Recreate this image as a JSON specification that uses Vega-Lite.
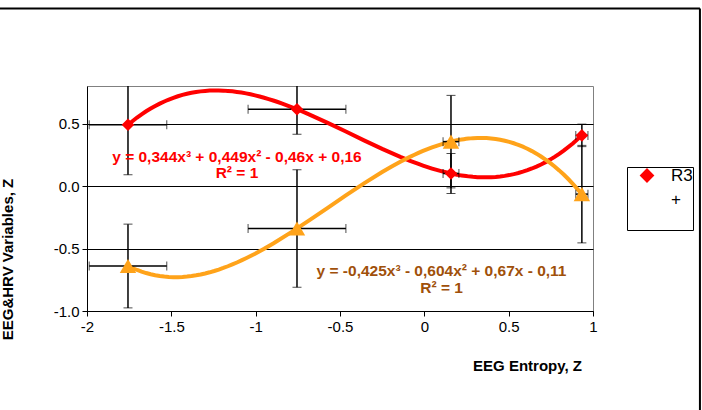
{
  "$schema": "https://vega.github.io/schema/vega-lite/v6.json",
  "width": 506,
  "height": 225,
  "autosize": {"type": "none"},
  "padding": {"left": 87, "top": 86, "right": 109, "bottom": 99},
  "background": "white",
  "config": {
    "view": {"stroke": "#808080", "strokeWidth": 1},
    "axis": {
      "domainColor": "black",
      "tickColor": "black",
      "labelColor": "black",
      "titleColor": "black",
      "labelFont": "Liberation Sans",
      "titleFont": "Liberation Sans",
      "labelFontSize": 15,
      "titleFontSize": 15,
      "titleFontWeight": "bold",
      "tickSize": 5,
      "labelPadding": 3
    },
    "legend": {
      "orient": "none",
      "legendX": 540,
      "legendY": 81,
      "titleOrient": "bottom",
      "titleFontSize": 20,
      "titlePadding": 2,
      "padding": 0,
      "strokeColor": "black",
      "fillColor": "white",
      "labelFont": "Liberation Sans",
      "labelFontSize": 17,
      "labelColor": "black",
      "labelOffset": 15,
      "symbolOffset": 11,
      "symbolSize": 150,
      "rowPadding": 6
    }
  },
  "data": {
    "values": [
      {"series": "R3", "x": -1.757, "y": 0.49, "xerr": 0.23, "yerr": 0.4},
      {"series": "R3", "x": -0.755, "y": 0.614, "xerr": 0.29, "yerr": 0.2},
      {"series": "R3", "x": 0.158, "y": 0.1, "xerr": 0.047, "yerr": 0.16},
      {"series": "R3", "x": 0.934, "y": 0.405, "xerr": 0.036, "yerr": 0.09},
      {"series": "+", "x": -1.757, "y": -0.64, "xerr": 0.23, "yerr": 0.335},
      {"series": "+", "x": -0.755, "y": -0.34, "xerr": 0.29, "yerr": 0.47},
      {"series": "+", "x": 0.158, "y": 0.355, "xerr": 0.047, "yerr": 0.37},
      {"series": "+", "x": 0.934, "y": -0.065, "xerr": 0.036, "yerr": 0.39}
    ]
  },
  "encoding": {
    "x": {
      "field": "x",
      "type": "quantitative",
      "scale": {"domain": [-2, 1], "nice": false, "zero": false},
      "axis": {
        "title": "EEG Entropy, Z",
        "values": [-2, -1.5, -1, -0.5, 0, 0.5, 1],
        "grid": false,
        "labelFlush": false,
        "labelExpr": "datum.value < 0 ? '-' + format(-datum.value, '~g') : format(datum.value, '~g')",
        "titleX": 440,
        "titleY": 59,
        "titleAlign": "center",
        "titleBaseline": "alphabetic"
      }
    },
    "y": {
      "field": "y",
      "type": "quantitative",
      "scale": {"domain": [-1, 0.8], "nice": false, "zero": false},
      "axis": {
        "title": "EEG&HRV Variables, Z",
        "values": [-1, -0.5, 0, 0.5],
        "grid": true,
        "gridColor": "black",
        "gridWidth": 1,
        "gridOpacity": 1,
        "labelExpr": "datum.value < 0 ? '-' + format(-datum.value, '.1f') : format(datum.value, '.1f')",
        "titleX": -75,
        "titleY": 173,
        "titleAngle": 270,
        "titleAlign": "center",
        "titleBaseline": "alphabetic"
      }
    }
  },
  "layer": [
    {
      "transform": [
        {"regression": "y", "on": "x", "groupby": ["series"], "method": "poly", "order": 3}
      ],
      "mark": {"type": "line", "strokeWidth": 4, "clip": true},
      "encoding": {
        "color": {
          "field": "series",
          "type": "nominal",
          "scale": {"domain": ["R3", "+"], "range": ["#FF0000", "#FFA31A"]},
          "legend": {
            "title": " ",
            "encode": {
              "symbols": {"update": {"opacity": {"signal": "datum.value === 'R3' ? 1 : 0"}, "fillOpacity": {"signal": "datum.value === 'R3' ? 1 : 0"}}}
            }
          }
        }
      }
    },
    {
      "mark": {
        "type": "errorbar",
        "color": "black",
        "clip": true,
        "ticks": {"size": 9, "color": "black"},
        "rule": {"strokeWidth": 1.5, "color": "black"}
      },
      "encoding": {
        "yError": {"field": "yerr"}
      }
    },
    {
      "mark": {
        "type": "errorbar",
        "color": "black",
        "clip": true,
        "ticks": {"size": 9, "color": "black"},
        "rule": {"strokeWidth": 1.5, "color": "black"}
      },
      "encoding": {
        "xError": {"field": "xerr"}
      }
    },
    {
      "mark": {"type": "point", "filled": true, "opacity": 1},
      "encoding": {
        "color": {
          "field": "series",
          "type": "nominal",
          "scale": {"domain": ["R3", "+"], "range": ["#FF0000", "#FFA31A"]},
          "legend": {
            "title": " ",
            "encode": {
              "symbols": {"update": {"opacity": {"signal": "datum.value === 'R3' ? 1 : 0"}, "fillOpacity": {"signal": "datum.value === 'R3' ? 1 : 0"}}}
            }
          }
        },
        "shape": {
          "field": "series",
          "type": "nominal",
          "scale": {"domain": ["R3", "+"], "range": ["diamond", "triangle-up"]},
          "legend": {
            "title": " ",
            "encode": {
              "symbols": {"update": {"opacity": {"signal": "datum.value === 'R3' ? 1 : 0"}, "fillOpacity": {"signal": "datum.value === 'R3' ? 1 : 0"}}}
            }
          }
        },
        "size": {
          "field": "series",
          "type": "nominal",
          "scale": {"domain": ["R3", "+"], "range": [160, 270]},
          "legend": null
        }
      }
    },
    {
      "transform": [{"filter": "datum.series === 'R3' && datum.x < -1.5"}],
      "mark": {"type": "text", "font": "Liberation Sans", "fontSize": 15.5, "fontWeight": "bold", "fill": "#FF0000", "align": "center", "baseline": "alphabetic", "lineHeight": 16},
      "encoding": {
        "x": {"datum": -1.111},
        "y": {"datum": 0.196},
        "text": {"value": ["y = 0,344x³ + 0,449x² - 0,46x + 0,16", "R² = 1"]}
      }
    },
    {
      "transform": [{"filter": "datum.series === '+' && datum.x < -1.5"}],
      "mark": {"type": "text", "font": "Liberation Sans", "fontSize": 15.5, "fontWeight": "bold", "fill": "#A0500A", "align": "center", "baseline": "alphabetic", "lineHeight": 17},
      "encoding": {
        "x": {"datum": 0.102},
        "y": {"datum": -0.716},
        "text": {"value": ["y = -0,425x³ - 0,604x² + 0,67x - 0,11", "R² = 1"]}
      }
    },
    {
      "transform": [{"filter": "datum.series === 'R3' && datum.x < -1.5"}],
      "mark": {"type": "rule", "color": "black", "strokeWidth": 2},
      "encoding": {
        "x": {"datum": -2.6},
        "x2": {"datum": 1.634},
        "y": {"datum": 1.42}
      }
    },
    {
      "transform": [{"filter": "datum.series === 'R3' && datum.x < -1.5"}],
      "mark": {"type": "rule", "color": "black", "strokeWidth": 2},
      "encoding": {
        "x": {"datum": 1.634},
        "y": {"datum": 1.42},
        "y2": {"datum": -1.85}
      }
    }
  ]
}
